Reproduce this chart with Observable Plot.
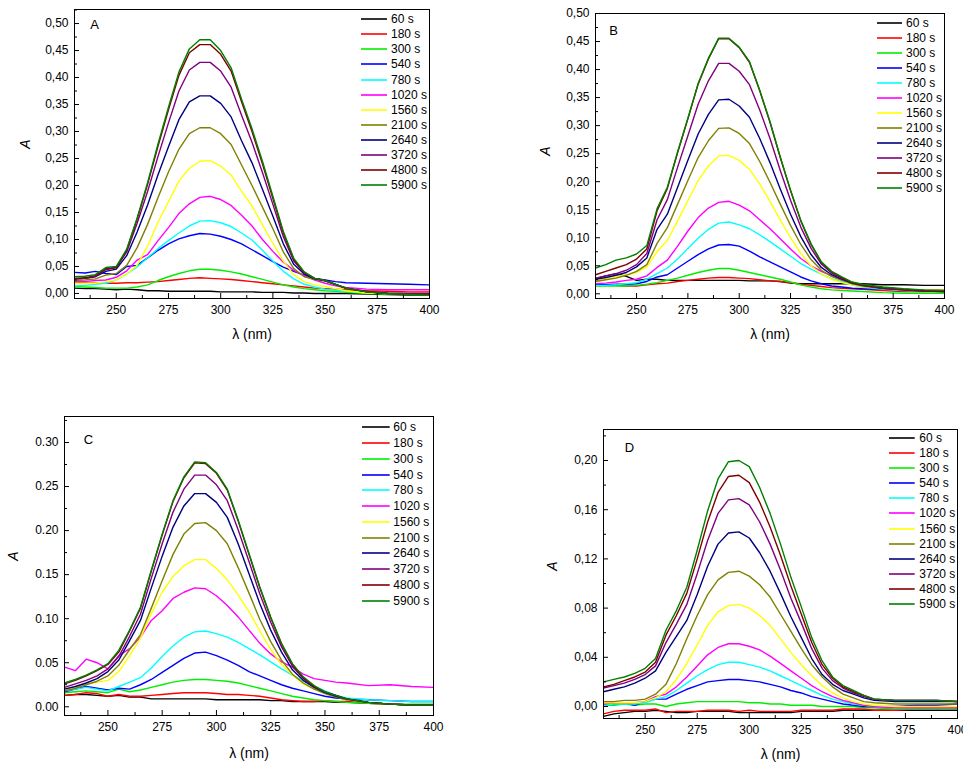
<!DOCTYPE html>
<html><head><meta charset="utf-8">
<script src="https://cdn.jsdelivr.net/npm/d3@7"></script>
<script src="https://cdn.jsdelivr.net/npm/@observablehq/plot@0.6"></script>
<style>
body{margin:0;background:#fff;overflow:hidden;font-family:"Liberation Sans",Arial,sans-serif;}
#root{position:relative;width:963px;height:762px;overflow:hidden;}
.panel{position:absolute;}
.legend{position:absolute;left:0;top:0;font-size:12px;color:#000;}
.legend .row{position:absolute;display:flex;align-items:center;white-space:nowrap;height:14px;}
.legend svg{display:block;}
</style></head><body><div id="root"></div>
<script>
// wavelength grid (nm)
const wavelengths = [230,235,240,245,250,255,260,265,270,275,280,285,290,295,300,305,310,315,320,325,330,335,340,345,350,355,360,370,380,390,400];
const seriesLabels = ["60 s","180 s","300 s","540 s","780 s","1020 s","1560 s","2100 s","2640 s","3720 s","4800 s","5900 s"];
const seriesColors = ["#000000","#ff0000","#00ee00","#0000ff","#00ffff","#ff00ff","#ffff00","#808000","#000080","#800080","#800000","#008000"];
const xTicks = [250,275,300,325,350,375,400];
const xMinorTicks = [237.5,262.5,287.5,312.5,337.5,362.5,387.5];

// Panel A absorbance (rows follow seriesLabels)
const panelA = [
 [.010,.009,.009,.008,.007,.008,.007,.005,.005,.004,.004,.004,.004,.004,.003,.003,.003,.003,.002,.002,.002,.001,.001,.000,.000,.000,.000,-.001,-.002,-.003,-.003],
 [.019,.019,.019,.019,.019,.020,.020,.021,.022,.024,.026,.028,.029,.028,.027,.026,.024,.022,.020,.018,.016,.014,.012,.010,.009,.008,.007,.005,.004,.003,.003],
 [.013,.012,.011,.010,.010,.010,.012,.016,.024,.031,.037,.042,.045,.045,.043,.040,.036,.031,.026,.021,.016,.012,.009,.007,.005,.004,.002,.000,-.001,-.002,-.003],
 [.039,.038,.041,.037,.035,.050,.052,.066,.080,.092,.101,.107,.111,.110,.106,.100,.092,.081,.070,.059,.049,.041,.034,.028,.025,.022,.020,.019,.018,.017,.016],
 [.014,.015,.017,.019,.025,.036,.049,.066,.083,.098,.112,.125,.134,.135,.131,.124,.112,.099,.080,.060,.041,.027,.017,.012,.008,.006,.004,.001,.000,-.001,-.001],
 [.022,.022,.024,.025,.030,.042,.062,.072,.098,.122,.148,.166,.178,.180,.174,.163,.145,.125,.100,.078,.058,.043,.033,.025,.019,.014,.011,.008,.007,.007,.007],
 [.018,.018,.019,.022,.025,.036,.052,.088,.132,.170,.208,.232,.245,.246,.236,.219,.189,.162,.127,.093,.060,.035,.022,.016,.013,.009,.005,.001,.000,-.001,-.001],
 [.024,.025,.027,.034,.037,.052,.085,.128,.178,.225,.267,.296,.307,.307,.296,.276,.238,.200,.160,.120,.077,.046,.031,.026,.023,.016,.009,.003,.000,.000,.000],
 [.027,.028,.031,.041,.045,.070,.114,.164,.220,.272,.322,.355,.366,.366,.352,.327,.283,.242,.193,.143,.092,.054,.036,.027,.024,.017,.010,.003,.000,-.001,-.001],
 [.027,.028,.032,.044,.048,.077,.130,.189,.254,.316,.375,.414,.428,.428,.412,.382,.330,.280,.224,.165,.105,.060,.038,.028,.024,.017,.010,.004,.001,.000,.000],
 [.028,.029,.033,.046,.048,.080,.138,.202,.273,.340,.404,.446,.461,.461,.443,.412,.355,.300,.240,.176,.112,.063,.039,.028,.024,.017,.010,.003,.000,-.002,-.002],
 [.031,.032,.035,.048,.050,.082,.140,.205,.277,.345,.410,.453,.470,.470,.450,.418,.360,.305,.245,.180,.115,.065,.040,.028,.024,.017,.010,.003,.000,-.002,-.003]
];
// Panel B
const panelB = [
 [.027,.032,.036,.031,.024,.026,.026,.024,.024,.024,.024,.024,.024,.024,.024,.023,.023,.023,.022,.019,.018,.018,.018,.018,.018,.018,.018,.016,.016,.015,.015],
 [.015,.015,.015,.014,.014,.016,.018,.019,.022,.024,.026,.028,.029,.029,.028,.027,.025,.023,.022,.020,.017,.015,.013,.011,.010,.009,.008,.006,.004,.004,.004],
 [.014,.014,.014,.014,.015,.017,.020,.024,.028,.033,.038,.042,.045,.045,.042,.038,.034,.030,.026,.021,.016,.012,.009,.007,.006,.005,.004,.002,.001,.001,.001],
 [.016,.016,.017,.017,.018,.022,.030,.034,.046,.058,.070,.080,.087,.088,.085,.076,.066,.057,.048,.039,.030,.023,.018,.014,.012,.010,.009,.008,.007,.007,.007],
 [.015,.015,.016,.018,.020,.026,.036,.046,.062,.081,.099,.115,.126,.128,.123,.116,.105,.093,.080,.067,.054,.044,.035,.027,.021,.016,.012,.008,.006,.005,.005],
 [.018,.019,.021,.024,.026,.032,.047,.060,.085,.112,.136,.153,.163,.165,.158,.148,.132,.116,.098,.080,.063,.050,.040,.032,.025,.020,.016,.011,.008,.006,.005],
 [.024,.027,.030,.034,.038,.048,.075,.095,.130,.166,.202,.228,.246,.247,.238,.222,.196,.165,.132,.100,.072,.050,.035,.026,.020,.016,.013,.010,.008,.007,.007],
 [.022,.025,.028,.033,.040,.052,.090,.118,.160,.202,.243,.273,.295,.296,.286,.268,.236,.199,.160,.122,.088,.061,.042,.031,.024,.018,.014,.009,.007,.005,.004],
 [.026,.029,.033,.038,.048,.064,.115,.142,.190,.238,.285,.320,.346,.347,.335,.315,.277,.234,.187,.142,.102,.070,.047,.034,.026,.019,.015,.010,.007,.005,.004],
 [.028,.032,.036,.042,.052,.072,.132,.168,.226,.282,.338,.380,.411,.411,.397,.373,.328,.277,.220,.167,.119,.081,.053,.037,.028,.020,.015,.010,.007,.005,.004],
 [.034,.040,.046,.052,.062,.080,.148,.188,.252,.312,.374,.419,.455,.455,.439,.413,.362,.306,.243,.184,.130,.088,.056,.039,.029,.020,.016,.011,.008,.006,.005],
 [.046,.052,.060,.064,.071,.086,.152,.190,.253,.313,.375,.420,.456,.456,.440,.414,.363,.307,.244,.185,.131,.089,.057,.040,.030,.021,.017,.012,.009,.007,.006]
];
// Panel C
const panelC = [
 [.013,.014,.014,.013,.012,.013,.011,.011,.009,.009,.009,.009,.009,.009,.008,.008,.008,.008,.008,.007,.007,.006,.006,.006,.006,.005,.005,.004,.003,.002,.002],
 [.013,.014,.016,.015,.012,.014,.012,.012,.013,.014,.015,.016,.016,.016,.015,.014,.014,.013,.012,.010,.008,.007,.006,.006,.007,.006,.006,.004,.003,.002,.002],
 [.016,.017,.018,.017,.016,.020,.017,.019,.022,.025,.028,.030,.031,.031,.030,.029,.027,.024,.021,.018,.015,.012,.010,.008,.007,.006,.005,.004,.003,.003,.003],
 [.017,.020,.023,.021,.019,.021,.020,.025,.031,.039,.047,.055,.061,.062,.058,.053,.047,.040,.035,.030,.025,.021,.018,.015,.012,.010,.009,.008,.007,.006,.006],
 [.018,.020,.022,.020,.018,.023,.028,.033,.044,.057,.069,.079,.085,.086,.083,.079,.073,.066,.059,.051,.043,.036,.029,.023,.018,.013,.010,.008,.007,.006,.006],
 [.045,.041,.054,.050,.043,.058,.066,.079,.098,.109,.123,.130,.135,.134,.126,.115,.102,.087,.072,.060,.051,.045,.037,.032,.030,.028,.027,.024,.025,.023,.022],
 [.020,.023,.026,.028,.030,.040,.058,.078,.106,.130,.148,.160,.167,.167,.157,.144,.127,.108,.086,.065,.048,.036,.026,.020,.016,.012,.009,.005,.003,.002,.002],
 [.018,.021,.025,.029,.035,.047,.065,.082,.112,.143,.173,.196,.208,.209,.200,.185,.158,.129,.099,.074,.053,.037,.027,.020,.015,.011,.008,.005,.003,.002,.002],
 [.020,.023,.027,.032,.040,.053,.075,.098,.135,.171,.204,.228,.242,.242,.232,.215,.185,.151,.117,.087,.062,.042,.030,.022,.016,.012,.009,.005,.003,.002,.002],
 [.022,.026,.030,.035,.043,.057,.080,.105,.146,.185,.221,.247,.263,.263,.252,.234,.201,.165,.128,.096,.068,.046,.032,.023,.017,.013,.009,.005,.003,.002,.002],
 [.026,.030,.035,.041,.048,.062,.086,.112,.154,.195,.233,.260,.277,.276,.265,.246,.211,.173,.135,.101,.071,.048,.033,.023,.017,.013,.009,.005,.003,.002,.002],
 [.027,.031,.036,.042,.049,.064,.087,.113,.155,.196,.234,.261,.278,.277,.266,.247,.212,.174,.136,.102,.072,.049,.034,.024,.017,.013,.009,.005,.003,.002,.002]
];
// Panel D
const panelD = [
 [-.008,-.006,-.005,-.004,-.004,-.003,-.004,-.005,-.005,-.004,-.004,-.004,-.004,-.005,-.005,-.005,-.005,-.005,-.005,-.004,-.004,-.004,-.004,-.003,-.003,-.003,-.003,-.003,-.003,-.003,-.003],
 [-.006,-.004,-.003,-.003,-.003,-.002,-.005,-.004,-.004,-.004,-.003,-.003,-.003,-.004,-.003,-.004,-.004,-.004,-.004,-.003,-.003,-.003,-.003,-.002,-.002,-.002,-.003,-.003,-.002,-.002,-.002],
 [.001,.001,.002,.001,.002,.002,.000,.002,.003,.004,.004,.004,.004,.004,.003,.003,.002,.002,.001,.001,.001,.000,.000,.000,.000,-.001,-.001,-.002,-.002,-.002,-.002],
 [.002,.002,.003,.001,.004,.006,.006,.010,.014,.017,.020,.021,.022,.022,.021,.020,.018,.016,.013,.011,.008,.006,.004,.002,.001,.000,.000,.000,.001,.001,.002],
 [.001,.002,.002,.002,.003,.006,.008,.013,.019,.025,.030,.034,.036,.036,.034,.032,.029,.025,.021,.017,.013,.009,.006,.004,.002,.001,.000,-.001,-.001,-.001,-.001],
 [.002,.003,.003,.003,.004,.008,.010,.016,.024,.033,.042,.048,.051,.051,.049,.046,.041,.035,.029,.023,.017,.012,.008,.005,.003,.001,.000,-.001,-.001,-.001,-.001],
 [.003,.003,.003,.003,.004,.007,.012,.022,.035,.050,.066,.077,.082,.083,.080,.074,.066,.055,.044,.034,.025,.017,.011,.007,.004,.002,.001,.000,.000,.000,.000],
 [.004,.004,.005,.005,.006,.010,.018,.035,.055,.074,.091,.103,.109,.110,.106,.099,.089,.075,.061,.047,.034,.024,.016,.010,.007,.004,.003,.002,.002,.002,.002],
 [.012,.014,.016,.019,.023,.029,.044,.057,.070,.091,.114,.132,.141,.142,.137,.125,.110,.092,.073,.056,.039,.026,.018,.013,.010,.007,.005,.004,.004,.004,.004],
 [.015,.017,.019,.022,.026,.033,.052,.067,.083,.108,.135,.157,.168,.169,.164,.150,.132,.111,.088,.068,.047,.031,.021,.015,.011,.008,.006,.005,.005,.005,.004],
 [.016,.018,.021,.024,.028,.036,.058,.074,.092,.120,.150,.174,.187,.188,.182,.166,.146,.123,.098,.075,.052,.034,.023,.016,.012,.009,.006,.005,.005,.005,.004],
 [.020,.022,.024,.027,.031,.039,.062,.078,.097,.127,.159,.185,.199,.200,.195,.178,.157,.132,.105,.081,.056,.037,.024,.017,.013,.009,.006,.005,.005,.005,.004]
];
const yTicksAB = [0,.05,.10,.15,.20,.25,.30,.35,.40,.45,.50];
const yMinorAB = [.025,.075,.125,.175,.225,.275,.325,.375,.425,.475,.525];
const yTicksC = [0,.05,.10,.15,.20,.25,.30];
const yMinorC = [.025,.075,.125,.175,.225,.275,.325];
const yTicksD = [0,.04,.08,.12,.16,.20];
const yMinorD = [.02,.06,.10,.14,.18,.22];

const panels = [
 {values: panelA, letter: "A", left: 0, top: 0, width: 480, height: 350, ml: 74, mr: 51, mt: 9, mb: 52,
  yDomain: [-0.0093, 0.526], yTicks: yTicksAB, yMinor: yMinorAB, comma: true,
  letterDx: 20, letterDy: 15, yLabDx: -49, yLabDy: -10, xLabDy: 36,
  legend: {x1: 360.7, x2: 386.7, tx: 391, y0: 19.3, step: 15.05}},
 {values: panelB, letter: "B", left: 480, top: 0, width: 483, height: 350, ml: 115, mr: 19, mt: 13, mb: 52,
  yDomain: [-0.0084, 0.5], yTicks: yTicksAB, yMinor: yMinorAB.slice(0, 10), comma: true,
  letterDx: 18, letterDy: 17, yLabDx: -50, yLabDy: -5, xLabDy: 36,
  legend: {x1: 876.7, x2: 902.3, tx: 906, y0: 23.3, step: 14.95}},
 {values: panelC, letter: "C", left: 0, top: 400, width: 480, height: 362, ml: 64, mr: 47, mt: 16, mb: 47,
  yDomain: [-0.0099, 0.3295], yTicks: yTicksC, yMinor: yMinorC, comma: false,
  letterDx: 24, letterDy: 23, yLabDx: -51, yLabDy: -10, xLabDy: 38,
  legend: {x1: 362.3, x2: 390, tx: 393.3, y0: 427.3, step: 15.76}},
 {values: panelD, letter: "D", left: 480, top: 400, width: 483, height: 362, ml: 123, mr: 6, mt: 29, mb: 44,
  yDomain: [-0.00976, 0.2252], yTicks: yTicksD, yMinor: yMinorD, comma: true,
  letterDx: 26, letterDy: 18, yLabDx: -51, yLabDy: -8, xLabDy: 36,
  legend: {x1: 889.3, x2: 915, tx: 919.3, y0: 437.7, step: 15.15}}
];

const root = document.getElementById("root");
const blank = () => "";

for (const cfg of panels) {
  const rows = [];
  cfg.values.forEach((vals, i) => vals.forEach((v, j) => rows.push({series: seriesLabels[i], w: wavelengths[j], v})));
  const f2 = d3.format(".2f");
  const fmt = cfg.comma ? (d => f2(d).replace(".", ",")) : f2;
  const plot = Plot.plot({
    width: cfg.width, height: cfg.height,
    marginLeft: cfg.ml, marginRight: cfg.mr, marginTop: cfg.mt, marginBottom: cfg.mb,
    style: {fontFamily: "'Liberation Sans', Arial, sans-serif", fontSize: "12px", color: "#000", background: "transparent", overflow: "visible"},
    x: {domain: [230, 400]},
    y: {domain: cfg.yDomain},
    color: {domain: seriesLabels, range: seriesColors},
    marks: [
      Plot.line(rows, {x: "w", y: "v", z: "series", stroke: "series", strokeWidth: 1.4, clip: true}),
      Plot.frame({stroke: "#000", strokeWidth: 1}),
      Plot.axisY(cfg.yTicks, {anchor: "left", tickSize: 0, tickPadding: 6, tickFormat: fmt, label: null, fontSize: 12}),
      Plot.axisY(cfg.yTicks, {anchor: "left", tickSize: 5, dx: 5, tickFormat: blank, label: null}),
      Plot.axisY(cfg.yMinor, {anchor: "left", tickSize: 3, dx: 3, tickFormat: blank, label: null}),
      Plot.axisX(xTicks, {anchor: "bottom", tickSize: 0, tickPadding: 7, tickFormat: d => String(d), label: null, fontSize: 12}),
      Plot.axisX(xTicks, {anchor: "bottom", tickSize: 5, dy: -5, tickFormat: blank, label: null}),
      Plot.axisX(xMinorTicks, {anchor: "bottom", tickSize: 3, dy: -3, tickFormat: blank, label: null}),
      Plot.text([cfg.letter], {text: d => d, frameAnchor: "top-left", dx: cfg.letterDx, dy: cfg.letterDy, textAnchor: "middle", lineAnchor: "middle", fontSize: 13, fill: "#000"}),
      Plot.text(["λ (nm)"], {text: d => d, frameAnchor: "bottom", dy: cfg.xLabDy, textAnchor: "middle", lineAnchor: "middle", fontSize: 14, fill: "#000"}),
      Plot.text(["A"], {text: d => d, frameAnchor: "left", dx: cfg.yLabDx, dy: cfg.yLabDy, rotate: -90, textAnchor: "middle", lineAnchor: "middle", fontSize: 14, fontStyle: "italic", fill: "#000"})
    ]
  });
  const holder = document.createElement("div");
  holder.className = "panel";
  holder.style.left = cfg.left + "px";
  holder.style.top = cfg.top + "px";
  holder.appendChild(plot);
  root.appendChild(holder);
}

// legends (overlay)
const legendLayer = document.createElement("div");
legendLayer.className = "legend";
root.appendChild(legendLayer);
for (const cfg of panels) {
  const L = cfg.legend;
  seriesLabels.forEach((lab, i) => {
    const row = document.createElement("div");
    row.className = "row";
    row.style.left = L.x1 + "px";
    row.style.top = (L.y0 + i * L.step - 7) + "px";
    const w = L.x2 - L.x1;
    row.innerHTML = `<svg width="${w}" height="14"><line x1="0" x2="${w}" y1="7" y2="7" stroke="${seriesColors[i]}" stroke-width="1.6"/></svg><span style="margin-left:${L.tx - L.x2}px">${lab}</span>`;
    legendLayer.appendChild(row);
  });
}
</script>
</body></html>
